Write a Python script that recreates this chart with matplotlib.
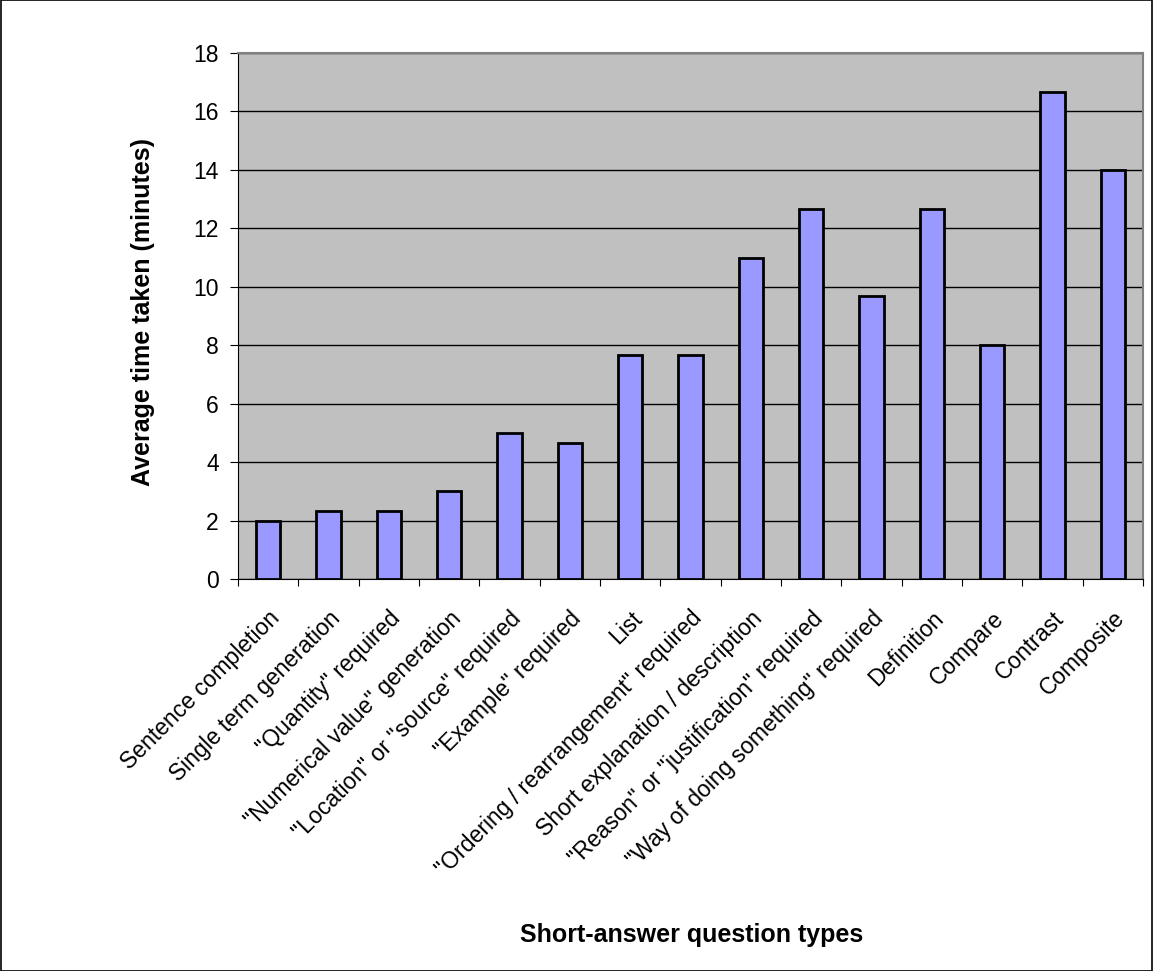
import numpy as np
import matplotlib
matplotlib.use('Agg')
import matplotlib.pyplot as plt
from matplotlib.patches import Rectangle
from matplotlib.transforms import ScaledTranslation

plt.rcParams['font.family'] = ['Liberation Sans', 'DejaVu Sans']

#categories and values
categories = ['Sentence completion', 'Single term generation', '"Quantity" required',
              '"Numerical value" generation', '"Location" or "source" required',
              '"Example" required', 'List', '"Ordering / rearrangement" required',
              'Short explanation / description', '"Reason" or "justification" required',
              '"Way of doing something" required', 'Definition', 'Compare',
              'Contrast', 'Composite']
avg_time = [2, 2.33, 2.33, 3, 5, 4.67, 7.67, 7.67, 11, 12.67, 9.67, 12.67, 8, 16.67, 14]
yticks = [0, 2, 4, 6, 8, 10, 12, 14, 16, 18]

fig = plt.figure(figsize=(11.53, 9.71), dpi=100)
fig.patches.append(Rectangle((0.0005, 0.0005), 0.999, 0.999, transform=fig.transFigure,
                             fill=False, edgecolor='black', lw=1.2))
ax = fig.add_axes([0.2064, 0.4037, 0.7849, 0.5417])
ax.set_facecolor('#C0C0C0')

x = np.arange(len(categories))
ax.bar(x, avg_time, width=0.4, color='#9999FF', edgecolor='black', lw=2, zorder=3)

ax.set_xlim(-0.5, len(categories) - 0.5)
ax.set_ylim(0, 18)
ax.set_yticks(yticks)
ax.yaxis.grid(True, color='black', lw=1, zorder=0)
ax.set_axisbelow(True)

#x ticks between categories, labels at bar centres
ax.set_xticks(np.arange(-0.5, len(categories)), minor=False)
ax.set_xticklabels([])
ax.set_xticks(x, minor=True)
labels = ax.set_xticklabels(categories, minor=True, rotation=45, ha='right', va='top',
                            rotation_mode='anchor', fontsize=16.5)
shift = ScaledTranslation(-16 / 100, 0, fig.dpi_scale_trans)
for lab in labels:
    lab.set_transform(lab.get_transform() + shift)
ax.tick_params(axis='x', which='minor', length=0, pad=20)
ax.tick_params(axis='x', which='major', length=5, color='black')
ax.tick_params(axis='y', length=5.8, labelsize=16.5, pad=8)

for s in ['top', 'right']:
    ax.spines[s].set_color('#808080')
    ax.spines[s].set_linewidth(1.5)
ax.spines['left'].set_color('black')
ax.spines['bottom'].set_color('black')

fig.text(0.124, 0.6787, 'Average time taken (minutes)', fontsize=18, fontweight='bold',
         rotation=90, ha='center', va='center')
fig.text(0.600, 0.037, 'Short-answer question types', fontsize=18, fontweight='bold',
         ha='center', va='center')

plt.savefig('out.png', dpi=100)
